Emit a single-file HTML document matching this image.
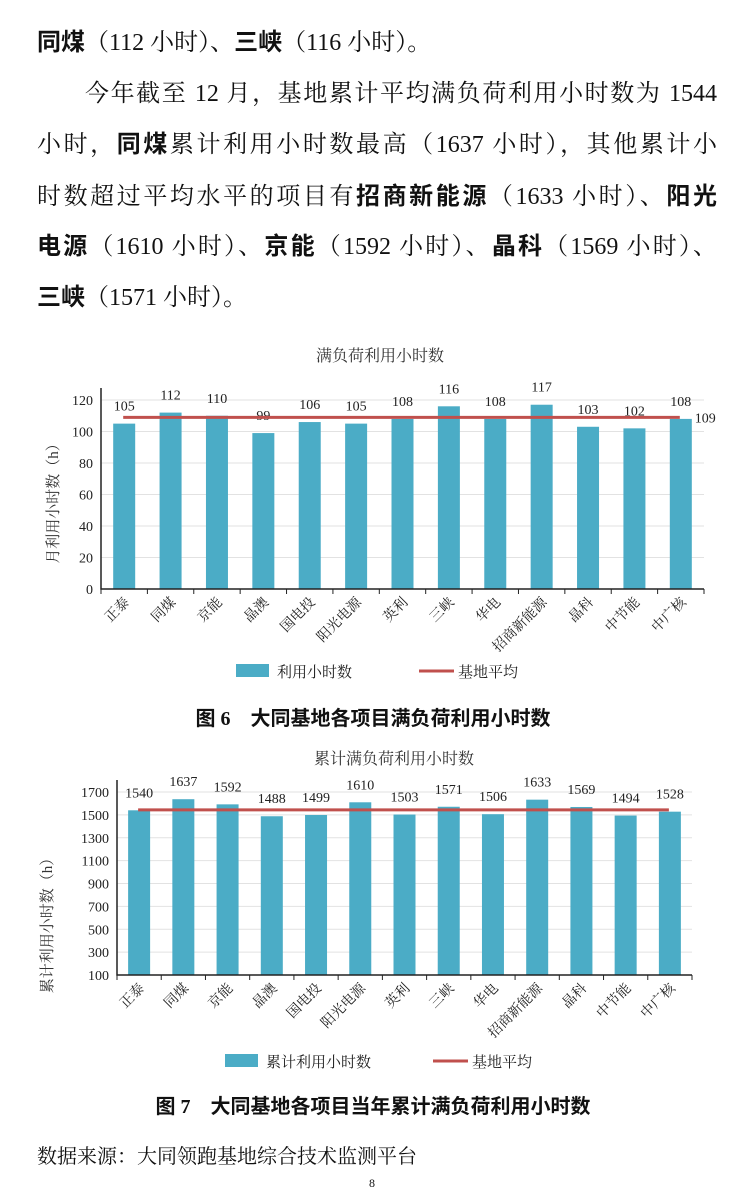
<!DOCTYPE html>
<html><head><meta charset="utf-8">
<style>
body{margin:0;background:#fff;width:746px;height:1200px;overflow:hidden;position:relative;font-family:"Liberation Serif","Noto Serif CJK SC","Noto Sans CJK SC",serif;color:#111}
.line{position:absolute;left:37px;width:680px;font-size:24px;line-height:30px;white-space:nowrap}
.j{text-align:justify;text-align-last:justify}
b{font-family:"Liberation Sans","Noto Sans CJK SC",sans-serif;font-weight:bold}
.cap{position:absolute;left:0;width:746px;text-align:center;font-size:20px;font-weight:bold;font-family:"Liberation Serif","Noto Sans CJK SC",serif}
svg text{font-family:"Liberation Serif","Noto Serif CJK SC","Noto Sans CJK SC",serif}
</style></head><body>
<div class="line" style="top:28px"><b>同煤</b>（112 小时）、<b>三峡</b>（116 小时）。</div>
<div class="line j" style="top:79px;padding-left:48px;width:632px">今年截至 12 月，基地累计平均满负荷利用小时数为 1544</div>
<div class="line j" style="top:130px">小时，<b>同煤</b>累计利用小时数最高（1637 小时），其他累计小</div>
<div class="line j" style="top:182px">时数超过平均水平的项目有<b>招商新能源</b>（1633 小时）、<b>阳光</b></div>
<div class="line j" style="top:232px"><b>电源</b>（1610 小时）、<b>京能</b>（1592 小时）、<b>晶科</b>（1569 小时）、</div>
<div class="line" style="top:283px"><b>三峡</b>（1571 小时）。</div>

<svg id="c1" style="position:absolute;left:0;top:0" width="746" height="1200"></svg>

<div class="cap" style="top:702px">图 6　大同基地各项目满负荷利用小时数</div>
<div class="cap" style="top:1090px">图 7　大同基地各项目当年累计满负荷利用小时数</div>
<div style="position:absolute;left:37px;top:1140px;font-size:20px">数据来源：大同领跑基地综合技术监测平台</div>
<div style="position:absolute;left:369px;top:1176px;font-size:12px">8</div>

<script>
const categories=["正泰","同煤","京能","晶澳","国电投","阳光电源","英利","三峡","华电","招商新能源","晶科","中节能","中广核"];
const monthlyValues=[105,112,110,99,106,105,108,116,108,117,103,102,108];
const monthlyAvg=109;
const monthlyTicks=[0,20,40,60,80,100,120];
const cumValues=[1540,1637,1592,1488,1499,1610,1503,1571,1506,1633,1569,1494,1528];
const cumAvg=1544;
const cumTicks=[100,300,500,700,900,1100,1300,1500,1700];

const svg=document.getElementById('c1');
const NS='http://www.w3.org/2000/svg';
function mk(tag,attrs,parent){const e=document.createElementNS(NS,tag);for(const k in attrs)e.setAttribute(k,attrs[k]);(parent||svg).appendChild(e);return e;}

function drawChart(o){
  const g=mk('g',{});
  
  
  const y=v=>o.y0-(v-o.vmin)/(o.vmax-o.vmin)*(o.y0-o.y1);
  const cw=(o.x1-o.x0)/categories.length;
  const x=i=>o.x0+cw*(i+0.5);
  const t=mk('text',{x:o.tx,y:o.ty,'text-anchor':'middle','font-size':16,fill:'#333'},g);t.textContent=o.title;
  
  
  o.ticks.forEach(v=>{
    const l=mk('line',{x1:o.x0,x2:o.x1,y1:y(v),y2:y(v),stroke:'#e2e2e2','stroke-width':1},g);
    
    
    const tl=mk('text',{x:o.x0-8,y:y(v)+5,'text-anchor':'end','font-size':14,fill:'#222'},g);tl.textContent=v;
    
    
  });
  o.values.forEach((v,i)=>{
    const r=mk('rect',{x:x(i)-11,y:y(v),width:22,height:o.y0-y(v),fill:'#4bacc6'},g);
    
    
    const lb=mk('text',{x:x(i),y:y(v)-13,'text-anchor':'middle','font-size':14,fill:'#222'},g);lb.textContent=v;
    
    
    const cl=mk('text',{x:0,y:0,'text-anchor':'end','font-size':14,fill:'#222',transform:`translate(${x(i)+6},${o.y0+14}) rotate(-45)`},g);cl.textContent=categories[i];
    
    
  });
  const ax=mk('path',{d:`M${o.x0},${o.y1-12}V${o.y0}H${o.x1}`,fill:'none',stroke:'#222','stroke-width':1.5},g);
  
  
  for(let i=0;i<=categories.length;i++){mk('line',{x1:o.x0+cw*i,x2:o.x0+cw*i,y1:o.y0,y2:o.y0+5,stroke:'#222'},g);}
  const av=mk('line',{x1:x(0)-1,x2:x(categories.length-1)-1,y1:y(o.avg),y2:y(o.avg),stroke:'#c0504d','stroke-width':3},g);
  
  
  if(o.showAvgLabel){const al=mk('text',{x:x(categories.length-1)+14,y:y(o.avg)+5,'font-size':14,fill:'#222'},g);al.textContent=o.avg;
    
    }
  const yt=mk('text',{x:0,y:0,'text-anchor':'middle','font-size':15,fill:'#333',transform:`translate(${o.ytx},${o.yty}) rotate(-90)`},g);yt.textContent=o.ytitle;
  
  
  const sw=mk('rect',{x:o.lx,y:o.ly-7,width:33,height:13,fill:'#4bacc6'},g);
  
  
  const lt=mk('text',{x:o.lx+41,y:o.ly+6,'font-size':15,fill:'#222'},g);lt.textContent=o.legend1;
  
  
  const ll=mk('line',{x1:o.lx2,x2:o.lx2+35,y1:o.ly,y2:o.ly,stroke:'#c0504d','stroke-width':3},g);
  
  
  const lt2=mk('text',{x:o.lx2+39,y:o.ly+6,'font-size':15,fill:'#222'},g);lt2.textContent='基地平均';
  
  
}
drawChart({name:'chart-monthly',title:'满负荷利用小时数',tx:380,ty:361,values:monthlyValues,avg:monthlyAvg,ticks:monthlyTicks,vmin:0,vmax:120,
  x0:101,x1:704,y0:589,y1:400,ytitle:'月利用小时数（h）',ytx:58,yty:500,showAvgLabel:true,lx:236,ly:671,lx2:419,legend1:'利用小时数'});
drawChart({name:'chart-cumulative',title:'累计满负荷利用小时数',tx:394,ty:764,values:cumValues,avg:cumAvg,ticks:cumTicks,vmin:100,vmax:1700,
  x0:117,x1:692,y0:975,y1:792,ytitle:'累计利用小时数（h）',ytx:52,yty:922,showAvgLabel:false,lx:225,ly:1061,lx2:433,legend1:'累计利用小时数'});
</script>
</body></html>
